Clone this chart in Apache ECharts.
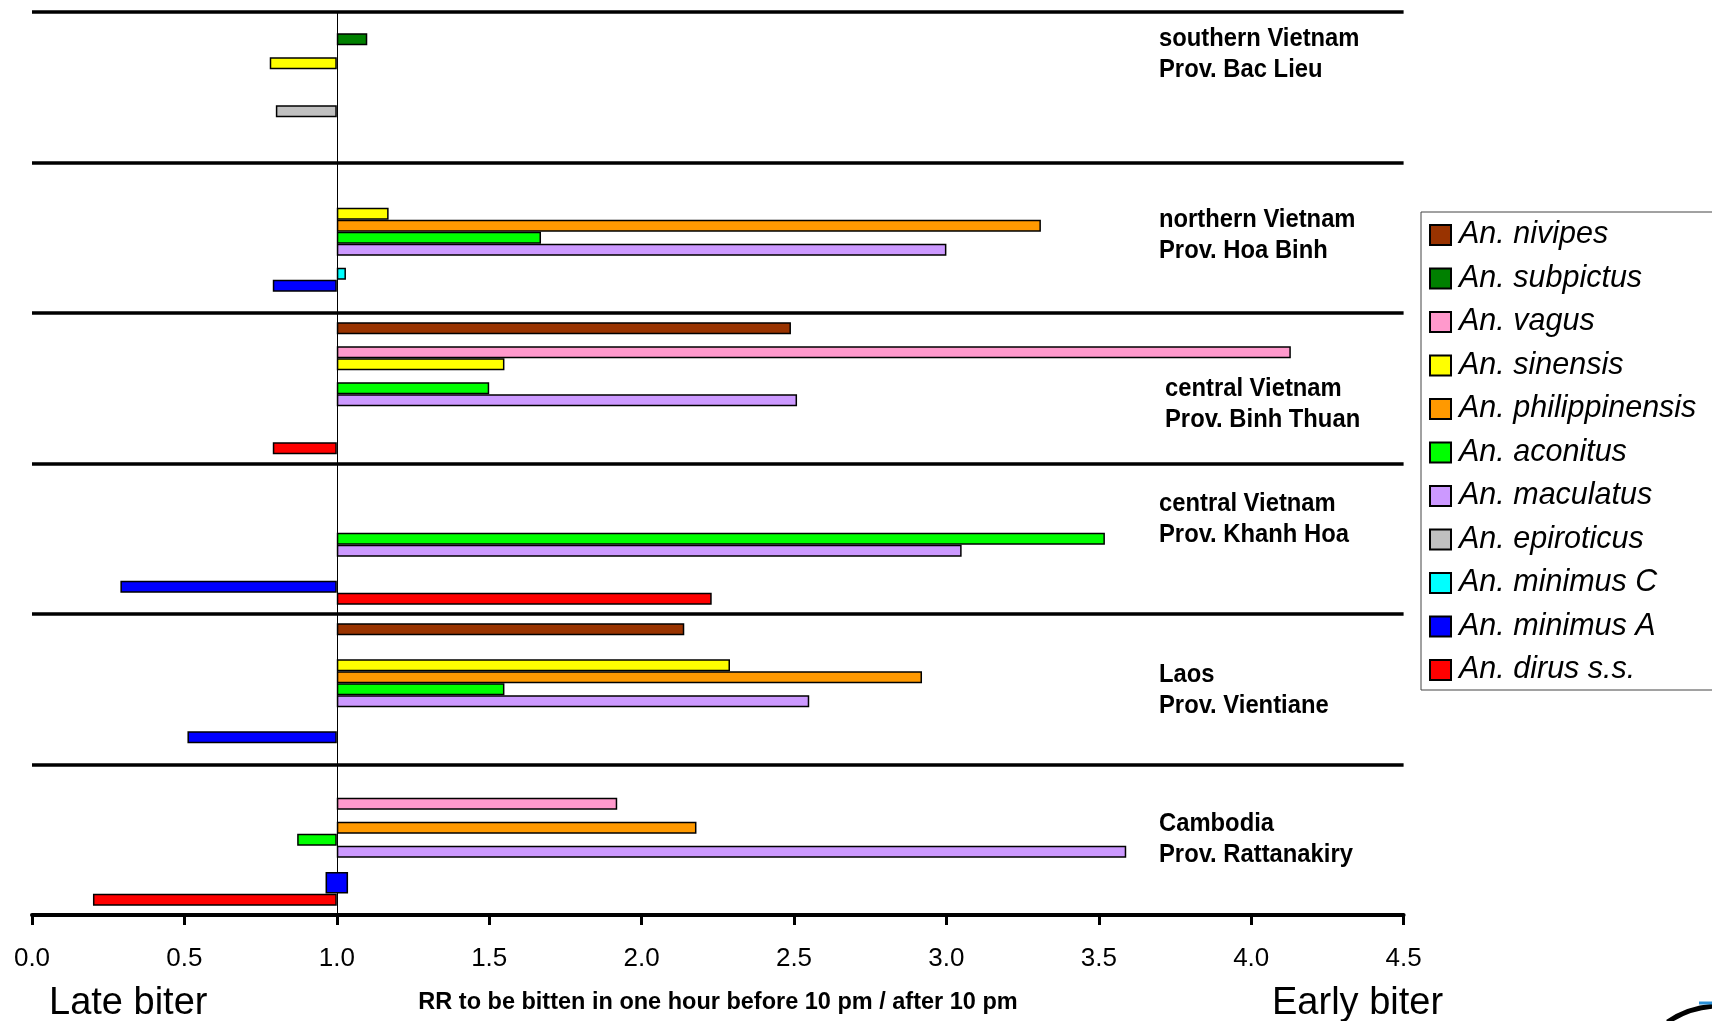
<!DOCTYPE html>
<html>
<head>
<meta charset="utf-8">
<title>Relative risk of early biting by Anopheles species</title>
<script src="https://cdn.jsdelivr.net/npm/echarts@6/dist/echarts.min.js"></script>
<style>
  html, body { margin: 0; padding: 0; background: #ffffff; }
  #chart { width: 1712px; height: 1021px; }
</style>
</head>
<body>
<div id="chart"></div>
<script>
// Study sites, top to bottom
const regions = ['southern Vietnam', 'northern Vietnam', 'central Vietnam', 'central Vietnam', 'Laos', 'Cambodia'];
const provinces = ['Prov. Bac Lieu', 'Prov. Hoa Binh', 'Prov. Binh Thuan', 'Prov. Khanh Hoa', 'Prov. Vientiane', 'Prov. Rattanakiry'];

// Species in legend / bar order
const species = ['An. nivipes', 'An. subpictus', 'An. vagus', 'An. sinensis', 'An. philippinensis',
  'An. aconitus', 'An. maculatus', 'An. epiroticus', 'An. minimus C', 'An. minimus A', 'An. dirus s.s.'];
const speciesColors = ['#993300', '#008000', '#FF99CC', '#FFFF00', '#FF9900',
  '#00FF00', '#CC99FF', '#C0C0C0', '#00FFFF', '#0000FF', '#FF0000'];

// Rate ratio (bitten in one hour before 10 pm / after 10 pm), one value per site; null = not caught
const nivipes        = [null, null, 2.49, null, 2.14, null];
const subpictus      = [1.10, null, null, null, null, null];
const vagus          = [null, null, 4.13, null, null, 1.92];
const sinensis       = [0.78, 1.17, 1.55, null, 2.29, null];
const philippinensis = [null, 3.31, null, null, 2.92, 2.18];
const aconitus       = [null, 1.67, 1.50, 3.52, 1.55, 0.87];
const maculatus      = [null, 3.00, 2.51, 3.05, 2.55, 3.59];
const epiroticus     = [0.80, null, null, null, null, null];
const minimusC       = [null, 1.03, null, null, null, null];
const minimusA       = [null, 0.79, null, 0.29, 0.51, null];
const dirus          = [null, null, 0.79, 2.23, null, 0.20];
// An. minimus A in Rattanakiry: ratio of 1, shown as a point
const minimusAPoint  = [null, null, null, null, null, 1.00];

const speciesValues = [nivipes, subpictus, vagus, sinensis, philippinensis,
  aconitus, maculatus, epiroticus, minimusC, minimusA, dirus];

// Bars grow from RR = 1 (no difference between early and late biting)
const RR_BASE = 1;
const AXIS_MIN = 0, AXIS_MAX = 4.5, AXIS_STEP = 0.5;

const bottomTexts = { late: 'Late biter', early: 'Early biter', axisName: 'RR to be bitten in one hour before 10 pm / after 10 pm' };

// Placement of the site captions on the right of the plot
const captionPos = [
  { x: 1159, y: 54 }, { x: 1159, y: 235.5 }, { x: 1165, y: 404 },
  { x: 1159, y: 519 }, { x: 1159, y: 690 }, { x: 1159, y: 839.5 }
];

const FONT = '"Liberation Sans", Arial, Helvetica, sans-serif';

const shift = v => (v == null ? null : +(v - RR_BASE).toFixed(4));

const barSeries = species.map((name, i) => ({
  name: name,
  type: 'bar',
  barWidth: 12,
  barGap: '0%',
  itemStyle: { color: speciesColors[i], borderColor: '#000', borderWidth: 1.5 },
  data: speciesValues[i].map(shift)
}));

const pointSeries = {
  name: 'An. minimus A',
  type: 'scatter',
  symbol: 'rect',
  symbolSize: [21, 20],
  symbolOffset: [0, 43],
  itemStyle: { color: '#0000FF', borderColor: '#000', borderWidth: 1.5, opacity: 1 },
  data: minimusAPoint.map((v, i) => (v == null ? null : [shift(v), provinces[i]])).filter(d => d)
};

const captions = regions.map((r, i) => ({
  type: 'text',
  x: captionPos[i].x,
  y: captionPos[i].y,
  scaleX: 0.915,
  style: {
    text: r + '\n' + provinces[i],
    font: 'bold 26px ' + FONT,
    lineHeight: 31,
    fill: '#000',
    textAlign: 'left',
    textVerticalAlign: 'middle'
  }
}));

const chart = echarts.init(document.getElementById('chart'), null, { renderer: 'canvas' });

chart.setOption({
  animation: false,
  backgroundColor: '#ffffff',
  grid: { left: 32, right: 308.4, top: 12, bottom: 106 },
  legend: {
    data: species,
    orient: 'vertical',
    left: 1429,
    top: 220,
    padding: 0,
    icon: 'rect',
    itemWidth: 21,
    itemHeight: 20,
    itemGap: 13.5,
    selectedMode: false,
    textStyle: { fontFamily: FONT, fontSize: 30.5, fontStyle: 'italic', color: '#000', lineHeight: 30, padding: [0, 0, 0, 3] }
  },
  xAxis: {
    type: 'value',
    min: AXIS_MIN - RR_BASE,
    max: AXIS_MAX - RR_BASE,
    interval: AXIS_STEP,
    axisLine: { show: true, onZero: false, lineStyle: { color: '#000', width: 4 } },
    axisTick: { show: true, inside: false, length: 10, lineStyle: { color: '#000', width: 3 } },
    axisLabel: {
      margin: 31,
      fontFamily: FONT,
      fontSize: 26,
      color: '#000',
      formatter: v => (v + RR_BASE).toFixed(1)
    },
    splitLine: { show: false }
  },
  yAxis: {
    type: 'category',
    data: provinces,
    inverse: true,
    axisLine: { show: true, onZero: true, lineStyle: { color: '#000', width: 1 } },
    axisTick: { show: false },
    axisLabel: { show: false, interval: 0 },
    splitLine: { show: true, interval: 0, lineStyle: { color: '#000', width: 3.5 } }
  },
  series: barSeries.concat([pointSeries]),
  graphic: captions.concat([
    {
      type: 'rect',
      shape: { x: 1421, y: 212, width: 330, height: 478 },
      style: { fill: 'none', stroke: '#444', lineWidth: 1 },
      z: 100
    },
    {
      type: 'text', x: 49, y: 1003.5,
      style: { text: bottomTexts.late, font: '38px ' + FONT, fill: '#000', textAlign: 'left', textVerticalAlign: 'middle' }
    },
    {
      type: 'text', x: 1272, y: 1003.5,
      style: { text: bottomTexts.early, font: '38px ' + FONT, fill: '#000', textAlign: 'left', textVerticalAlign: 'middle' }
    },
    {
      type: 'text', x: 718, y: 1003,
      style: { text: bottomTexts.axisName, font: 'bold 23.5px ' + FONT, fill: '#000', textAlign: 'center', textVerticalAlign: 'middle' }
    },
    {
      type: 'arc',
      shape: { cx: 1720, cy: 1100, r: 94, startAngle: 4.12, endAngle: 5.2 },
      style: { stroke: '#000', lineWidth: 5, fill: 'none' }
    },
    {
      type: 'line',
      shape: { x1: 1699, y1: 1003, x2: 1712, y2: 1003 },
      style: { stroke: '#2a90d8', lineWidth: 3 }
    }
  ])
});
</script>
</body>
</html>
